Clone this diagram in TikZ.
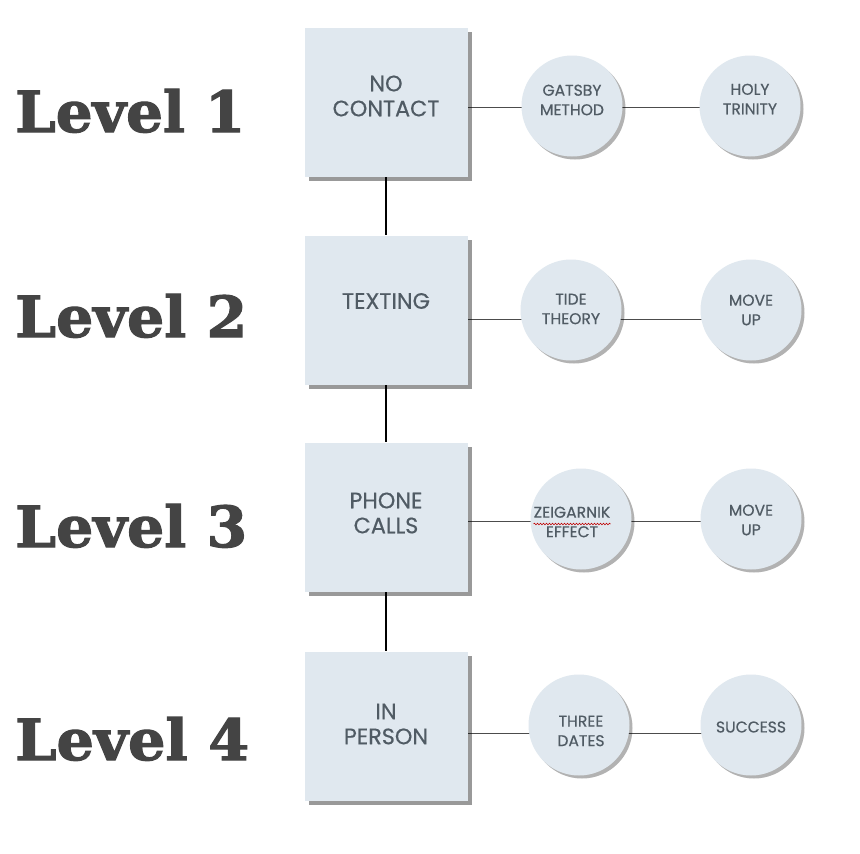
\documentclass[tikz,border=0pt]{standalone}
\usepackage{fontspec}
\setmainfont{Poppins}[FakeBold=0.5]
\newfontfamily\levelfont{DejaVu Serif}[BoldFeatures={FakeBold=2}]
\usetikzlibrary{shadows,backgrounds,decorations.pathmorphing}
\definecolor{boxfill}{HTML}{E0E8EF}
\definecolor{txt}{HTML}{505B64}
\definecolor{lvl}{HTML}{444444}
\begin{document}
\begin{tikzpicture}[x=1pt,y=-1pt,
  boxnode/.style={fill=boxfill, minimum width=163pt, minimum height=149pt, inner sep=0pt,
    drop shadow={shadow xshift=4pt, shadow yshift=-4pt, fill=black, opacity=0.4}},
  circ/.style={circle, fill=boxfill, minimum size=101pt, inner sep=0pt,
    drop shadow={shadow xshift=3pt, shadow yshift=-3pt, fill=black, opacity=0.3}},
  boxtext/.style={font=\fontsize{22.3}{25}\selectfont, text=txt, align=center, inner sep=0pt},
  circtext/.style={font=\fontsize{15.6}{19.5}\selectfont, text=txt, align=center, inner sep=0pt},
  level/.style={anchor=south west, inner sep=0pt, text=lvl},
  vline/.style={line width=1.3pt, black},
  hline/.style={line width=0.8pt, black!70}]
\useasboundingbox (0,0) rectangle (860,854);

% level labels
\node[level] (l1) at (15,133) {\resizebox{230pt}{43pt}{\levelfont\bfseries Level 1}};
\node[level] (l2) at (15,338) {\resizebox{232pt}{43pt}{\levelfont\bfseries Level 2}};
\node[level] (l3) at (15,548) {\resizebox{232pt}{43pt}{\levelfont\bfseries Level 3}};
\node[level] (l4) at (15,761) {\resizebox{234pt}{43pt}{\levelfont\bfseries Level 4}};

% boxes
\node[boxnode] (b1) at (386,102) {};
\node[boxnode] (b2) at (386,310) {};
\node[boxnode] (b3) at (386,517) {};
\node[boxnode] (b4) at (386,726) {};
\node[boxtext] (t1) at (386,96) {NO\\CONTACT};
\node[boxtext] (t2) at (386,301) {TEXTING};
\node[boxtext] (t3) at (386,513) {PHONE\\CALLS};
\node[boxtext] (t4) at (386,724) {IN\\PERSON};

% circles
\node[circ] (c11) at (572,106) {};
\node[circ] (c12) at (750,106) {};
\node[circ] (c21) at (571,310) {};
\node[circ] (c22) at (751,310) {};
\node[circ] (c31) at (581,519) {};
\node[circ] (c32) at (751,519) {};
\node[circ] (c41) at (579,725) {};
\node[circ] (c42) at (751,725) {};

\node[circtext] (d11) at (572,100) {GATSBY\\METHOD};
\node[circtext] (d12) at (750,99) {HOLY\\TRINITY};
\node[circtext] (d21) at (571,309) {TIDE\\THEORY};
\node[circtext] (d22) at (751,310) {MOVE\\UP};
\node[circtext] (d31) at (572,522) {ZEIGARNIK\\EFFECT};
\node[circtext] (d32) at (751,520) {MOVE\\UP};
\node[circtext] (d41) at (581,731) {THREE\\DATES};
\node[circtext] (d42) at (751,727) {SUCCESS};

% spell-check squiggle
\draw[red!75!black, line width=0.6pt, decorate, decoration={snake, amplitude=0.8pt, segment length=3pt}]
  (d31.west |- 0,524) -- (d31.east |- 0,524);

\begin{scope}[on background layer]
  \fill[white] (0,0) rectangle (860,854);
  \draw[vline] (b1.south) -- (b2.north);
  \draw[vline] (b2.south) -- (b3.north);
  \draw[vline] (b3.south) -- (b4.north);
  \draw[hline] (b1.east |- 0,107) -- (c12.center |- 0,107);
  \draw[hline] (b2.east |- 0,319) -- (c22.center |- 0,319);
  \draw[hline] (b3.east |- 0,521) -- (c32.center |- 0,521);
  \draw[hline] (b4.east |- 0,733) -- (c42.center |- 0,733);
\end{scope}
\end{tikzpicture}
\end{document}
